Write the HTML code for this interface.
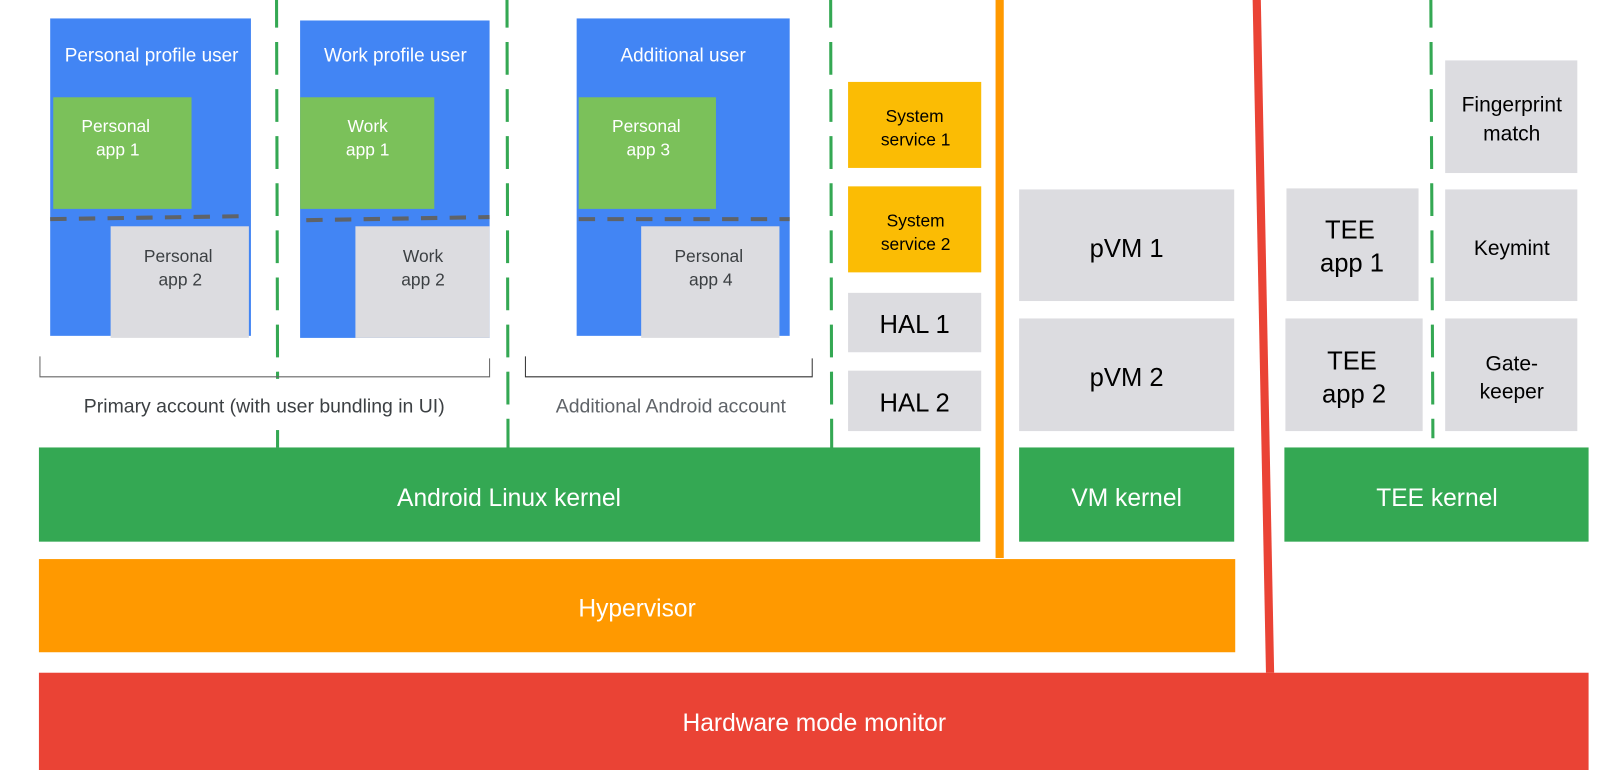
<!DOCTYPE html>
<html><head><meta charset="utf-8"><style>
html,body{margin:0;padding:0;background:#fff;}
svg{display:block;}
text{font-family:"Liberation Sans",Arial,sans-serif;text-anchor:middle;}
</style></head><body>
<svg width="1606" height="770" viewBox="0 0 1568 752" preserveAspectRatio="none" xmlns="http://www.w3.org/2000/svg">
<!-- green dashed separators -->
<g stroke="#34a853" stroke-width="3" stroke-dasharray="32,14" stroke-dashoffset="5">
<line x1="270" y1="0" x2="271" y2="370"/>
<line x1="495" y1="0" x2="496" y2="437"/>
<line x1="811" y1="0" x2="812" y2="437"/>
<line x1="1397" y1="0" x2="1399" y2="428"/>
</g>
<line x1="271" y1="420" x2="271" y2="437" stroke="#34a853" stroke-width="3"/>
<!-- user blocks -->
<rect x="49" y="18" width="196" height="310" fill="#4285f4"/>
<rect x="293" y="20" width="185" height="310" fill="#4285f4"/>
<rect x="563" y="18" width="208" height="310" fill="#4285f4"/>
<g fill="#7bc15a">
<rect x="52" y="95" width="135" height="109"/>
<rect x="293" y="95" width="131" height="109"/>
<rect x="565" y="95" width="134" height="109"/>
</g>
<g stroke="#5f6368" stroke-width="4" stroke-dasharray="16,12">
<line x1="49" y1="214" x2="245" y2="211"/>
<line x1="299" y1="215" x2="478" y2="212"/>
<line x1="565" y1="214" x2="771" y2="214"/>
</g>
<g fill="#dcdce0">
<rect x="108" y="221" width="135" height="109"/>
<rect x="347" y="221" width="131" height="109"/>
<rect x="626" y="221" width="135" height="109"/>
</g>
<g fill="#fff" font-size="18.5">
<text x="148" y="60">Personal profile user</text>
<text x="386" y="60">Work profile user</text>
<text x="667" y="60">Additional user</text>
</g>
<g fill="#fff" font-size="17">
<text x="113" y="129">Personal</text><text x="115" y="152">app 1</text>
<text x="359" y="129">Work</text><text x="359" y="152">app 1</text>
<text x="631" y="129">Personal</text><text x="633" y="152">app 3</text>
</g>
<g fill="#3c4043" font-size="17">
<text x="174" y="256">Personal</text><text x="176" y="279">app 2</text>
<text x="413" y="256">Work</text><text x="413" y="279">app 2</text>
<text x="692" y="256">Personal</text><text x="694" y="279">app 4</text>
</g>
<!-- brackets -->
<path d="M39,348 V368 H478 V350" fill="none" stroke="#666" stroke-width="1"/>
<path d="M513,348 V368 H793 V350" fill="none" stroke="#333" stroke-width="1"/>
<text x="258" y="403" font-size="19" fill="#3c4043">Primary account (with user bundling in UI)</text>
<text x="655" y="403" font-size="19" fill="#5f6368">Additional Android account</text>
<!-- system services / HAL -->
<rect x="828" y="80" width="130" height="84" fill="#fbbc04"/>
<rect x="828" y="182" width="130" height="84" fill="#fbbc04"/>
<g fill="#dcdce0">
<rect x="828" y="286" width="130" height="58"/>
<rect x="828" y="362" width="130" height="59"/>
<rect x="995" y="185" width="210" height="109"/>
<rect x="995" y="311" width="210" height="110"/>
<rect x="1256" y="184" width="129" height="110"/>
<rect x="1255" y="311" width="134" height="110"/>
<rect x="1411" y="59" width="129" height="110"/>
<rect x="1411" y="185" width="129" height="109"/>
<rect x="1411" y="311" width="129" height="110"/>
</g>
<g fill="#000" font-size="17">
<text x="893" y="119">System</text><text x="894" y="142">service 1</text>
<text x="894" y="221">System</text><text x="894" y="244">service 2</text>
</g>
<g fill="#000" font-size="25">
<text x="893" y="325">HAL 1</text>
<text x="893" y="402">HAL 2</text>
<text x="1100" y="251">pVM 1</text>
<text x="1100" y="377">pVM 2</text>
<text x="1318" y="233">TEE</text><text x="1320" y="265">app 1</text>
<text x="1320" y="361">TEE</text><text x="1322" y="393">app 2</text>
</g>
<g fill="#000" font-size="20.5">
<text x="1476" y="109">Fingerprint</text><text x="1476" y="137">match</text>
<text x="1476" y="249">Keymint</text>
<text x="1476" y="362">Gate-</text><text x="1476" y="389">keeper</text>
</g>
<!-- vertical separators -->
<rect x="972" y="0" width="8" height="545" fill="#ff9900"/>
<polygon points="1223,0 1231,0 1244,657 1236,657" fill="#ea4335"/>
<!-- kernels -->
<g fill="#34a853">
<rect x="38" y="437" width="919" height="92"/>
<rect x="995" y="437" width="210" height="92"/>
<rect x="1254" y="437" width="297" height="92"/>
</g>
<g fill="#fff" font-size="24">
<text x="497" y="494">Android Linux kernel</text>
<text x="1100" y="494">VM kernel</text>
<text x="1403" y="494">TEE kernel</text>
</g>
<rect x="38" y="546" width="1168" height="91" fill="#ff9900"/>
<text x="622" y="602" font-size="24" fill="#fff">Hypervisor</text>
<rect x="38" y="657" width="1513" height="95" fill="#ea4335"/>
<text x="795" y="714" font-size="24" fill="#fff">Hardware mode monitor</text>
</svg>
</body></html>
